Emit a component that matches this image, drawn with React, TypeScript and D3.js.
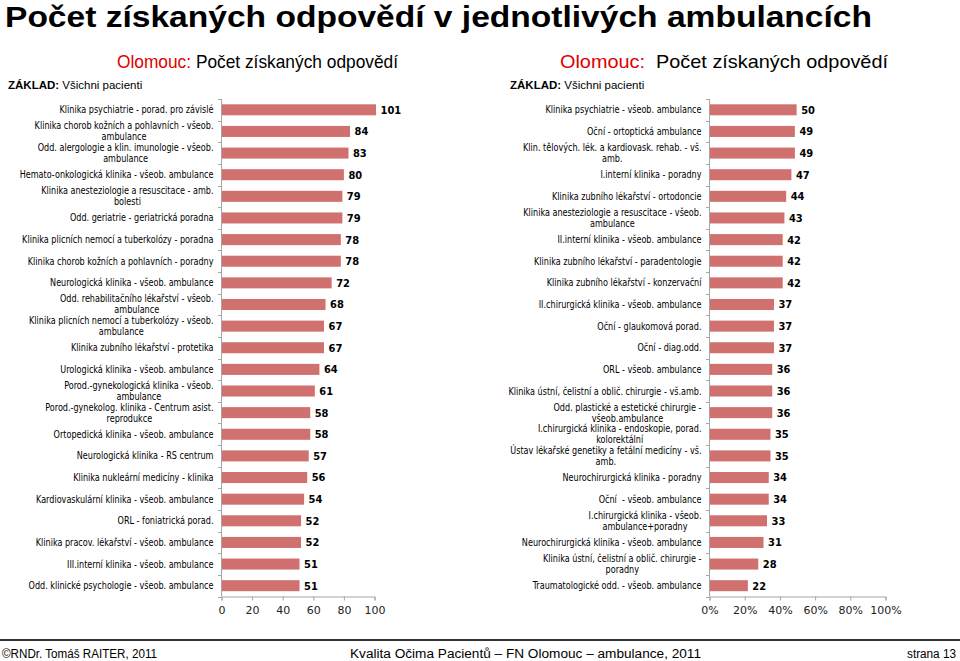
import React, { useEffect, useRef } from "react";
import * as d3 from "d3";

const leftCategories: string[] = [
  "Klinika psychiatrie - porad. pro závislé",
  "Klinika chorob kožních a pohlavních - všeob.\nambulance",
  "Odd. alergologie a klin. imunologie - všeob.\nambulance",
  "Hemato-onkologická klinika - všeob. ambulance",
  "Klinika anesteziologie a resuscitace - amb.\nbolesti",
  "Odd. geriatrie - geriatrická poradna",
  "Klinika plicních nemocí a tuberkolózy - poradna",
  "Klinika chorob kožních a pohlavních - poradny",
  "Neurologická klinika - všeob. ambulance",
  "Odd. rehabilitačního lékařství - všeob.\nambulance",
  "Klinika plicních nemocí a tuberkolózy - všeob.\nambulance",
  "Klinika zubního lékařství - protetika",
  "Urologická klinika - všeob. ambulance",
  "Porod.-gynekologická klinika - všeob.\nambulance",
  "Porod.-gynekolog. klinika - Centrum asist.\nreprodukce",
  "Ortopedická klinika - všeob. ambulance",
  "Neurologická klinika - RS centrum",
  "Klinika nukleární medicíny - klinika",
  "Kardiovaskulární klinika - všeob. ambulance",
  "ORL - foniatrická porad.",
  "Klinika pracov. lékařství - všeob. ambulance",
  "III.interní klinika - všeob. ambulance",
  "Odd. klinické psychologie - všeob. ambulance",
];
const leftValues: number[] = [101, 84, 83, 80, 79, 79, 78, 78, 72, 68, 67, 67, 64, 61, 58, 58, 57, 56, 54, 52, 52, 51, 51];

const rightCategories: string[] = [
  "Klinika psychiatrie - všeob. ambulance",
  "Oční - ortoptická ambulance",
  "Klin. tělových. lék. a kardiovask. rehab. - vš.\namb.",
  "I.interní klinika - poradny",
  "Klinika zubního lékařství - ortodoncie",
  "Klinika anesteziologie a resuscitace - všeob.\nambulance",
  "II.interní klinika - všeob. ambulance",
  "Klinika zubního lékařství - paradentologie",
  "Klinika zubního lékařství - konzervační",
  "II.chirurgická klinika - všeob. ambulance",
  "Oční - glaukomová porad.",
  "Oční - diag.odd.",
  "ORL - všeob. ambulance",
  "Klinika ústní, čelistní a oblič. chirurgie - vš.amb.",
  "Odd. plastické a estetické chirurgie -\nvšeob.ambulance",
  "I.chirurgická klinika - endoskopie, porad.\nkolorektální",
  "Ústav lékařské genetiky a fetální medicíny - vš.\namb.",
  "Neurochirurgická klinika - poradny",
  "Oční  - všeob. ambulance",
  "I.chirurgická klinika - všeob.\nambulance+poradny",
  "Neurochirurgická klinika - všeob. ambulance",
  "Klinika ústní, čelistní a oblič. chirurgie -\nporadny",
  "Traumatologické odd. - všeob. ambulance",
];
const rightValues: number[] = [50, 49, 49, 47, 44, 43, 42, 42, 42, 37, 37, 37, 36, 36, 36, 35, 35, 34, 34, 33, 31, 28, 22];

const leftTicks: number[] = [0, 20, 40, 60, 80, 100];
const rightTickFractions: number[] = [0, 0.2, 0.4, 0.6, 0.8, 1];
const RIGHT_AXIS_MAX = 101;

const TITLE = "Počet získaných odpovědí v jednotlivých ambulancích";
const FOOT_LEFT = "©RNDr. Tomáš RAITER, 2011";
const FOOT_MID = "Kvalita Očima Pacientů – FN Olomouc – ambulance, 2011";
const FOOT_RIGHT = "strana 13";

const BAR = "#D0716F";
const AXIS = "#A6A6A6";
const LABEL_FONT = "'DejaVu Sans Condensed', 'DejaVu Sans', sans-serif";
const SANS = "'Liberation Sans', Arial, sans-serif";

export default function App() {
  const ref = useRef<SVGSVGElement | null>(null);

  useEffect(() => {
    const svg = d3.select(ref.current);
    svg.selectAll("*").remove();

    // Title
    svg.append("text")
      .attr("x", 5).attr("y", 27)
      .attr("font-family", SANS)
      .attr("font-weight", "bold").attr("font-size", 30)
      .attr("textLength", 867).attr("lengthAdjust", "spacingAndGlyphs")
      .attr("fill", "#000")
      .text(TITLE);

    const drawHeader = (x0: number, sx: number, gap: string, len: number) => {
      const t = svg.append("text")
        .attr("x", sx).attr("y", 68)
        .attr("font-family", SANS)
        .attr("font-size", 19)
        .attr("textLength", len).attr("lengthAdjust", "spacingAndGlyphs");
      t.append("tspan").attr("fill", "#E00000").text("Olomouc:");
      t.append("tspan").attr("fill", "#000").text(gap + "Počet získaných odpovědí");
      const z = svg.append("text")
        .attr("x", x0).attr("y", 89)
        .attr("font-family", SANS)
        .attr("font-size", 11.5).attr("fill", "#000");
      z.append("tspan").attr("font-weight", "bold").text("ZÁKLAD:");
      z.append("tspan").text(" Všichni pacienti");
    };
    drawHeader(8, 117, " ", 281);
    drawHeader(510, 560, "\u00a0\u00a0", 328);

    const SX = 0.9;

    const drawChart = (
      cats: string[], vals: number[], x: d3.ScaleLinear<number, number>,
      tickVals: number[], tickFmt: (d: number) => string
    ) => {
      const idx = cats.map((_, i) => String(i));
      const y = d3.scaleBand<string>().domain(idx).range([99, 596.5])
        .paddingInner(0.49).paddingOuter(0.245);
      const x0 = x.range()[0];
      const g = svg.append("g");

      // bars
      g.selectAll("rect.bar").data(vals).enter().append("rect")
        .attr("x", x0 + 0.5)
        .attr("y", (_, i) => y(String(i))!)
        .attr("width", (d) => x(d) - x0)
        .attr("height", y.bandwidth())
        .attr("fill", BAR);

      // value labels
      g.selectAll("text.val").data(vals).enter().append("text")
        .attr("x", (d) => x(d) + 5)
        .attr("y", (_, i) => y(String(i))! + y.bandwidth() / 2)
        .attr("dy", "0.36em")
        .attr("font-family", LABEL_FONT)
        .attr("font-weight", "bold").attr("font-size", 11)
        .attr("fill", "#000")
        .text((d) => String(d));

      // vertical axis
      const top = y.range()[0], bottom = y.range()[1];
      g.append("line").attr("x1", x0 + 0.5).attr("x2", x0 + 0.5)
        .attr("y1", top).attr("y2", bottom).attr("stroke", AXIS);
      const step = y.step();
      for (let i = 0; i <= cats.length; i++) {
        const yy = Math.round(top + i * step) + 0.5;
        g.append("line").attr("x1", x0 - 3).attr("x2", x0 + 0.5)
          .attr("y1", yy).attr("y2", yy).attr("stroke", AXIS);
      }

      // horizontal axis
      const ax = g.append("g").attr("transform", `translate(0.5,${bottom})`)
        .call(d3.axisBottom(x).tickValues(tickVals).tickFormat((d) => tickFmt(d as number)).tickSize(4).tickPadding(6));
      ax.select(".domain").attr("stroke", AXIS);
      ax.selectAll(".tick line").attr("stroke", AXIS);
      ax.selectAll(".tick text")
        .attr("font-family", "'DejaVu Sans', sans-serif")
        .attr("font-size", 11).attr("fill", "#222");

      // category labels (slightly condensed horizontally)
      const lg = g.append("g").attr("transform", `scale(${SX},1)`);
      const lx = (x0 - 7.5) / SX;
      const fs = 10;
      cats.forEach((c, i) => {
        const lines = c.split("\n");
        const cy = y(String(i))! + y.bandwidth() / 2;
        const lh = 11;
        const startY = cy - ((lines.length - 1) * lh) / 2;
        const t1 = lg.append("text")
          .attr("x", lx).attr("y", startY).attr("dy", "0.35em")
          .attr("text-anchor", "end")
          .attr("font-family", LABEL_FONT).attr("font-size", fs)
          .attr("fill", "#000")
          .style("white-space", "pre")
          .text(lines[0]);
        if (lines.length > 1) {
          const w = (t1.node() as SVGTextElement).getComputedTextLength();
          for (let k = 1; k < lines.length; k++) {
            lg.append("text")
              .attr("x", lx - w / 2).attr("y", startY + k * lh).attr("dy", "0.35em")
              .attr("text-anchor", "middle")
              .attr("font-family", LABEL_FONT).attr("font-size", fs)
              .attr("fill", "#000")
              .text(lines[k]);
          }
        }
      });
    };

    const xL = d3.scaleLinear().domain([0, 100]).range([221, 374]);
    drawChart(leftCategories, leftValues, xL, leftTicks, (d) => String(d));

    const xR = d3.scaleLinear().domain([0, RIGHT_AXIS_MAX]).range([709, 885]);
    const pct = d3.format(".0%");
    drawChart(rightCategories, rightValues, xR,
      rightTickFractions.map((f) => f * RIGHT_AXIS_MAX), (d) => pct(d / RIGHT_AXIS_MAX));

    // footer
    svg.append("line").attr("x1", 0).attr("x2", 960).attr("y1", 640).attr("y2", 640)
      .attr("stroke", "#333").attr("stroke-width", 2);
    const foot = (x: number, anchor: string, s: string, len: number) =>
      svg.append("text").attr("x", x).attr("y", 657.5).attr("text-anchor", anchor)
        .attr("font-family", SANS)
        .attr("font-size", 12.5).attr("fill", "#000")
        .attr("textLength", len).attr("lengthAdjust", "spacingAndGlyphs")
        .text(s);
    foot(2, "start", FOOT_LEFT, 155);
    foot(525.5, "middle", FOOT_MID, 351);
    foot(956, "end", FOOT_RIGHT, 49);
  }, []);

  return (
    <svg ref={ref} width={960} height={661}
      style={{ position: "absolute", left: 0, top: 0, background: "#fff" }} />
  );
}
